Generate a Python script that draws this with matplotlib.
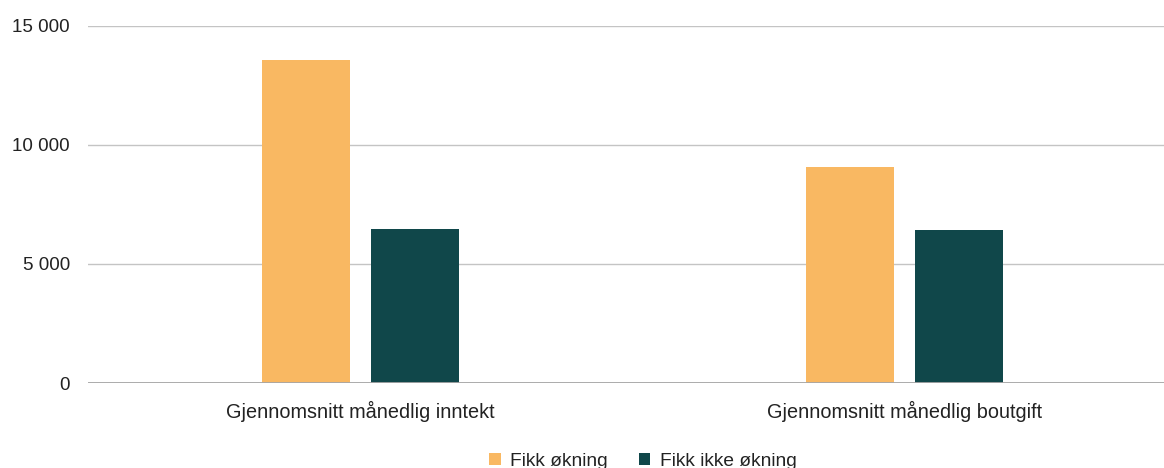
import matplotlib
matplotlib.use("Agg")
import matplotlib.pyplot as plt
import numpy as np
from matplotlib.ticker import FuncFormatter

# Data
categories = ["Gjennomsnitt månedlig inntekt", "Gjennomsnitt månedlig boutgift"]
series_names = ["Fikk økning", "Fikk ikke økning"]
fikk_okning = [13570, 9070]
fikk_ikke_okning = [6470, 6430]
y_ticks = [0, 5000, 10000, 15000]

colors = ["#F9B862", "#10474A"]

plt.rcParams["font.family"] = ["Liberation Sans", "DejaVu Sans"]

fig = plt.figure(figsize=(11.64, 4.68), dpi=100)
ax = fig.add_axes([88 / 1164, 1 - 383 / 468, 1 - 88 / 1164, (383 - 26) / 468])

x = np.arange(len(categories))
w = 0.162
ax.bar(x - 0.1, fikk_okning, width=w, color=colors[0], label=series_names[0], zorder=3)
ax.bar(x + 0.1, fikk_ikke_okning, width=w, color=colors[1], label=series_names[1], zorder=3)

ax.set_xlim(-0.501, 1.477)
ax.set_ylim(0, 15000)
ax.set_yticks(y_ticks)
ax.yaxis.set_major_formatter(FuncFormatter(lambda v, p: f"{int(v):,}".replace(",", " ")))
ax.set_xticks(x)
ax.set_xticklabels(categories)

ax.grid(axis="y", color="#c4c4c4", linewidth=1.0, zorder=0)
ax.axhline(0, color="#a6a6a6", linewidth=1.3, zorder=4)
for s in ax.spines.values():
    s.set_visible(False)
ax.tick_params(axis="both", length=0, colors="#222222")
ax.tick_params(axis="y", pad=13, labelsize=13.6)
ax.tick_params(axis="x", pad=13, labelsize=14.3)

fig.legend(loc="center", bbox_to_anchor=(643 / 1164, 1 - 461 / 468), ncol=2,
           frameon=False, fontsize=13.8, handlelength=0.6, handleheight=0.6,
           handletextpad=0.5, columnspacing=1.6, labelcolor="#222222")

fig.savefig("out.png", dpi=100)
